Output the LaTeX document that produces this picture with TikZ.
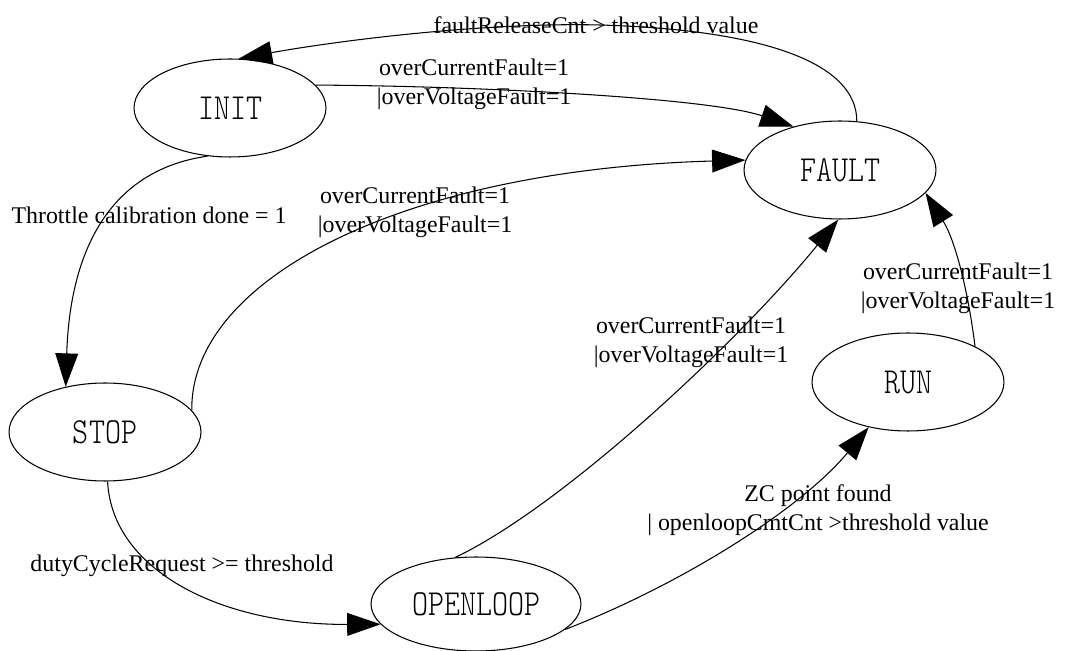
\documentclass[tikz,border=0pt]{standalone}
\usepackage{fontspec}
\setmainfont{Liberation Serif}
\newfontfamily\statefont[FakeStretch=0.83]{lmmonolt10-regular.otf}
\usetikzlibrary{shapes.geometric,arrows.meta}

\begin{document}
\begin{tikzpicture}[x=0.02cm, y=-0.02cm,
    state/.style={ellipse, draw, line width=0.6pt, minimum width=3.84cm, minimum height=1.96cm,
        inner sep=0pt, font=\statefont\fontsize{20.9}{24}\selectfont},
    cond/.style={align=center, inner sep=0pt, font=\fontsize{13.6}{16.3}\selectfont},
    edge/.style={line width=0.6pt, -{Triangle[length=19pt, width=13pt]}}
]
\useasboundingbox (0,0) rectangle (1075,651);

% states
\node[state] (INIT) at (230,108) {INIT};
\node[state] (FAULT) at (840,170) {FAULT};
\node[state] (STOP) at (105,432) {STOP};
\node[state, minimum width=4.2cm, minimum height=1.88cm] (OPENLOOP) at (476,604) {OPENLOOP};
\node[state] (RUN) at (908,382) {RUN};

% FAULT -> INIT
\node[cond] (release) at (596,25) {faultReleaseCnt > threshold value};
\draw[edge] (FAULT.71) .. controls (857,65) and (770,30) .. (600,25)
    .. controls (480,22) and (330,42) .. (INIT.80);

% INIT -> FAULT
\node[cond] (initfault) at (474,84) {overCurrentFault=1\\|overVoltageFault=1};
\draw[edge] (INIT.15) .. controls (480,86) and (710,98) .. (FAULT.137);

% INIT -> STOP
\node[cond] (calib) at (149,215) {Throttle calibration done = 1};
\draw[edge] (INIT.245) .. controls (110,170) and (70,250) .. (STOP.131);

% STOP -> FAULT
\node[cond] (stopfault) at (415,212) {overCurrentFault=1\\|overVoltageFault=1};
\draw[edge] (STOP.14) .. controls (190,280) and (400,170) .. (FAULT.174);

% STOP -> OPENLOOP
\node[cond] (duty) at (182,566) {dutyCycleRequest >= threshold};
\draw[edge] (STOP.273) .. controls (112,570) and (220,625) .. (OPENLOOP.192);

% OPENLOOP -> FAULT
\node[cond] (openfault) at (691,342) {overCurrentFault=1\\|overVoltageFault=1};
\draw[edge] (OPENLOOP.114) .. controls (565,505) and (740,340) .. (FAULT.268);

% OPENLOOP -> RUN
\node[cond] (zc) at (818,510) {ZC point found\\| openloopCmtCnt >threshold value};
\draw[edge] (OPENLOOP.344) .. controls (680,585) and (800,510) .. (RUN.229);

% RUN -> FAULT
\node[cond] (runfault) at (958,288) {overCurrentFault=1\\|overVoltageFault=1};
\draw[edge] (RUN.28) .. controls (968,290) and (955,240) .. (FAULT.345);

\end{tikzpicture}
\end{document}
